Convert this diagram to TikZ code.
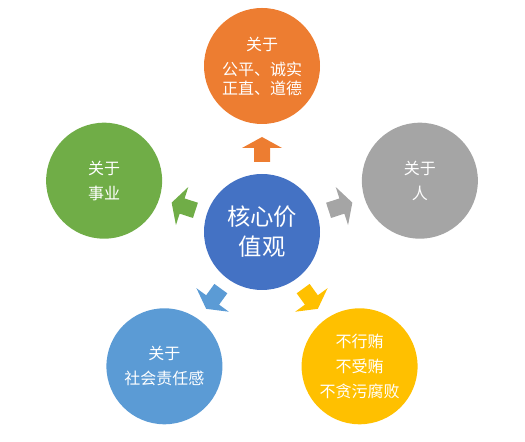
\documentclass[tikz,border=0pt]{standalone}
\usepackage{fontspec}
\newfontfamily\cjk{Noto Sans CJK SC}
\usetikzlibrary{calc}
\definecolor{ofcOrange}{HTML}{ED7D31}
\definecolor{ofcGreen}{HTML}{70AD47}
\definecolor{ofcGray}{HTML}{A5A5A5}
\definecolor{ofcBlue}{HTML}{4472C4}
\definecolor{ofcLightBlue}{HTML}{5B9BD5}
\definecolor{ofcYellow}{HTML}{FFC000}

\begin{document}
\begin{tikzpicture}[
    x=0.75pt, y=0.75pt,
    ball/.style={circle, fill=#1, minimum size=87pt, inner sep=0pt, align=center, text=white,
      font=\cjk\fontsize{12}{18.75}\selectfont},
    core/.style={circle, fill=ofcBlue, minimum size=87pt, inner sep=0pt, align=center, text=white,
      font=\cjk\fontsize{17.5}{22.5}\selectfont}
  ]
    \useasboundingbox (0,0) rectangle (525,442);

    \node[core] (core) at (262,210) {核心价\\值观};

    \node[ball=ofcOrange, font=\cjk\fontsize{12}{14.25}\selectfont]
      (fair) at ($(core)+(90:166)$) {关于\\[4.5pt]公平、诚实\\正直、道德};
    \node[ball=ofcGreen] (career) at ($(core)+(162:166)$) {关于\\事业};
    \node[ball=ofcGray] (people) at ($(core)+(18:166)$) {关于\\人};
    \node[ball=ofcLightBlue] (society) at ($(core)+(234:166)$) {关于\\社会责任感};
    \node[ball=ofcYellow] (bribe) at ($(core)+(306:166)$) {不行贿\\不受贿\\不贪污腐败};

    % block arrows pointing out from the core
    \foreach \ang/\col in {90/ofcOrange, 162/ofcGreen, 18/ofcGray, 234/ofcLightBlue, 306/ofcYellow}
      \fill[\col, shift={(core)}, rotate=\ang]
        (70,-8) -- (84,-8) -- (84,-20) -- (95,0) -- (84,20) -- (84,8) -- (70,8) -- cycle;
  \end{tikzpicture}
\end{document}
